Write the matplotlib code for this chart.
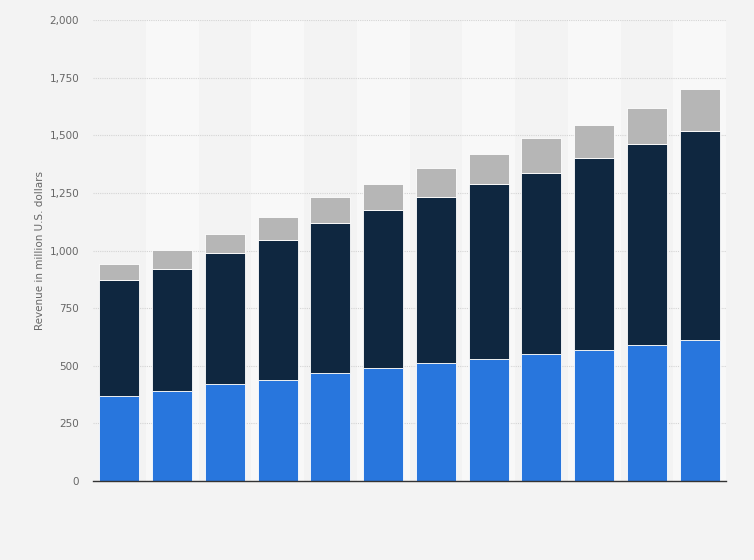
import numpy as np
import matplotlib
matplotlib.use('Agg')
import matplotlib.pyplot as plt
from matplotlib.ticker import FuncFormatter

# values (million U.S. dollars)
blue = [370, 390, 420, 440, 470, 490, 510, 530, 550, 570, 590, 610]
navy = [500, 530, 570, 605, 650, 685, 720, 760, 785, 830, 870, 910]
grey = [70, 80, 80, 100, 110, 115, 130, 130, 155, 145, 160, 180]
yticks = [0, 250, 500, 750, 1000, 1250, 1500, 1750, 2000]
ylabel = 'Revenue in million U.S. dollars'


def main():
    plt.rcParams['font.family'] = ['DejaVu Sans']
    fig = plt.figure(figsize=(7.54, 5.60), dpi=100)
    fig.patch.set_facecolor('#f3f3f3')
    ax = fig.add_axes([93 / 754, 1 - 481 / 560, 633 / 754, 461 / 560])
    ax.set_facecolor('#f3f3f3')

    n = len(blue)
    x = np.arange(n)
    # alternating column bands
    for i in x:
        if i % 2 == 1:
            ax.axvspan(i - 0.5, i + 0.5, color='#f8f8f8', zorder=0, lw=0)

    ax.set_axisbelow(True)
    ax.yaxis.grid(True, color='#d4d4d4', linestyle=(0, (1, 1)), lw=0.8)
    ax.xaxis.grid(False)

    b = np.array(blue)
    nv = np.array(navy)
    g = np.array(grey)
    w = 0.76
    ax.bar(x, b, w, color='#2876dd', edgecolor='white', lw=0.6, zorder=3)
    ax.bar(x, nv, w, bottom=b, color='#0f2740', edgecolor='white', lw=0.6, zorder=3)
    ax.bar(x, g, w, bottom=b + nv, color='#b6b6b6', edgecolor='white', lw=0.6, zorder=3)

    ax.set_xlim(-0.5, n - 0.5)
    ax.set_ylim(0, 2000)
    ax.set_yticks(yticks)
    ax.yaxis.set_major_formatter(FuncFormatter(lambda v, p: f'{int(v):,}'))
    ax.set_xticks([])
    ax.tick_params(axis='y', length=0, pad=10, labelsize=7.5, labelcolor='#666666')

    for s in ['top', 'right', 'left']:
        ax.spines[s].set_visible(False)
    ax.spines['bottom'].set_color('#333333')
    ax.spines['bottom'].set_linewidth(1.0)
    ax.spines['bottom'].set_zorder(4)

    ax.set_ylabel(ylabel, fontsize=7.5, color='#666666', labelpad=3)

    fig.savefig('out.png', dpi=100, facecolor=fig.get_facecolor())


if __name__ == "__main__":
    main()
